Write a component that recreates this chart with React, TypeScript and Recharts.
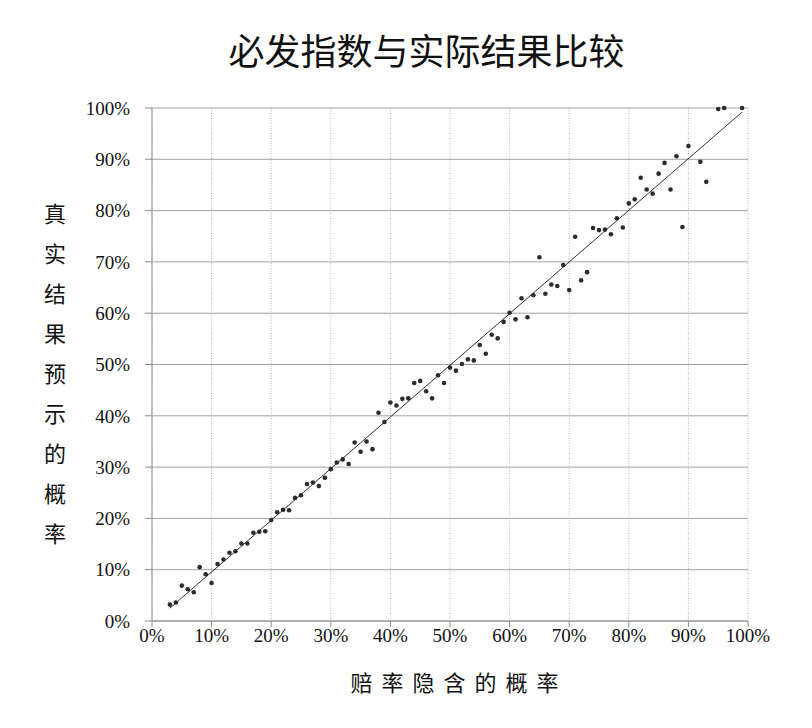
import React from 'react';
import {
  ScatterChart, Scatter, XAxis, YAxis, CartesianGrid, ReferenceLine, Label,
} from 'recharts';

// implied probability from the odds (%)
const IMPLIED = [
  3, 4, 5, 6, 7, 8, 9, 10, 11, 12, 13, 14, 15, 16, 17, 18, 19, 20, 21, 22,
  23, 24, 25, 26, 27, 28, 29, 30, 31, 32, 33, 34, 35, 36, 37, 38, 39, 40, 41, 42,
  43, 44, 45, 46, 47, 48, 49, 50, 51, 52, 53, 54, 55, 56, 57, 58, 59, 60, 61, 62,
  63, 64, 65, 66, 67, 68, 69, 70, 71, 72, 73, 74, 75, 76, 77, 78, 79, 80, 81, 82,
  83, 84, 85, 86, 87, 88, 89, 90, 92, 93, 95, 96, 99,
];

// actual observed probability (%)
const ACTUAL = [
  3.2, 3.6, 6.9, 6.2, 5.6, 10.5, 9.1, 7.4, 11.1, 12.0, 13.3, 13.6, 15.1, 15.1, 17.2, 17.4, 17.5, 19.7, 21.2, 21.7,
  21.6, 24.0, 24.5, 26.7, 27.0, 26.3, 27.9, 29.6, 30.9, 31.5, 30.6, 34.8, 33.0, 35.0, 33.5, 40.6, 38.8, 42.6, 42.0, 43.3,
  43.4, 46.4, 46.8, 44.8, 43.4, 47.9, 46.4, 49.4, 48.8, 50.1, 51.0, 50.8, 53.8, 52.1, 55.8, 55.1, 58.3, 60.1, 58.8, 62.9,
  59.2, 63.5, 70.9, 63.8, 65.6, 65.3, 69.4, 64.5, 74.9, 66.4, 68.0, 76.6, 76.2, 76.3, 75.4, 78.5, 76.7, 81.4, 82.2, 86.4,
  84.1, 83.3, 87.2, 89.3, 84.1, 90.6, 76.8, 92.6, 89.5, 85.6, 99.8, 100, 100,
];

// fitted trend line end points
const FIT_START = { x: 3, y: 2.5 };
const FIT_END = { x: 99, y: 99.2 };

const TICKS = [0, 10, 20, 30, 40, 50, 60, 70, 80, 90, 100];

const TITLE = '必发指数与实际结果比较';
const X_TITLE = '赔率隐含的概率';
const Y_TITLE = '真实结果预示的概率';

const points = IMPLIED.map((x, i) => ({ x, y: ACTUAL[i] }));

const tickStyle = { fontFamily: '"Liberation Serif", serif', fontSize: 19, fill: '#111' };
const cjk = '"Noto Sans CJK SC", sans-serif';

function Dot(props: { cx?: number; cy?: number }) {
  return <circle cx={props.cx} cy={props.cy} r={2.3} fill="#2b2b2b" />;
}

function YTitle() {
  return (
    <text x={55} y={212} textAnchor="middle" dominantBaseline="central"
      style={{ fontFamily: cjk, fontSize: 22, fill: '#111' }}>
      {Y_TITLE.split('').map((ch, i) => (
        <tspan key={`yt-${i}`} x={55} dy={i === 0 ? 0 : 40}>{ch}</tspan>
      ))}
    </text>
  );
}

function XTitle() {
  return (
    <text x={459} y={681} textAnchor="middle" dominantBaseline="central"
      style={{ fontFamily: cjk, fontSize: 22, letterSpacing: 9, fill: '#111' }}>
      {X_TITLE}
    </text>
  );
}

export default function App() {
  return (
    <div style={{ position: 'absolute', left: 0, top: 0, width: 812, height: 728, background: '#fff' }}>
      <div style={{
        position: 'absolute', left: 0, top: 25, width: 853, textAlign: 'center',
        fontFamily: cjk, fontSize: 36, lineHeight: '48px', color: '#111',
      }}>
        {TITLE}
      </div>
      <ScatterChart width={812} height={728} margin={{ top: 108, right: 64, left: 0, bottom: 0 }}>
        <CartesianGrid horizontal={false} stroke="#b5b5b5" strokeDasharray="1 1.5" />
        <CartesianGrid vertical={false} stroke="#a3a3a3" />
        <XAxis type="number" dataKey="x" domain={[0, 100]} ticks={TICKS} height={107}
          tickFormatter={(v) => `${v}%`} tick={tickStyle} tickSize={6} tickMargin={2}
          stroke="#8c8c8c" interval={0}>
          <Label content={<XTitle />} />
        </XAxis>
        <YAxis type="number" dataKey="y" domain={[0, 100]} ticks={TICKS} width={152}
          tickFormatter={(v) => `${v}%`} tick={tickStyle} tickSize={7} tickMargin={15}
          stroke="#8c8c8c" interval={0}>
          <Label content={<YTitle />} />
        </YAxis>
        <ReferenceLine segment={[FIT_START, FIT_END]} stroke="#333" strokeWidth={1} />
        <Scatter data={points} shape={<Dot />} isAnimationActive={false} />
      </ScatterChart>
    </div>
  );
}
